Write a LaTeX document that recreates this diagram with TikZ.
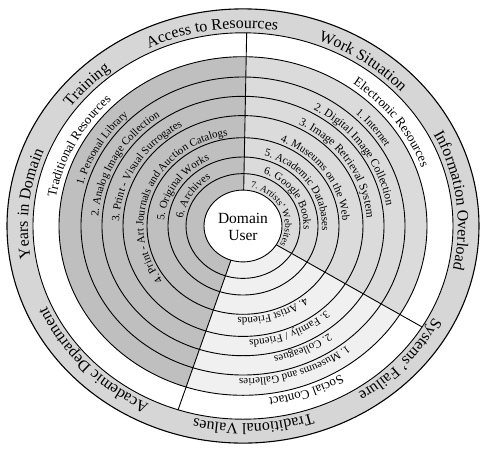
\documentclass[tikz,border=0pt]{standalone}
\usepackage{fontspec}
\setmainfont{Liberation Serif}
\usetikzlibrary{decorations.text}
\definecolor{bandgray}{gray}{0.84}
\definecolor{tradgray}{gray}{0.75}
\definecolor{elecgray}{gray}{0.86}
\definecolor{socgray}{gray}{0.94}
\tikzset{
  ring/.style={draw=black, line width=0.9pt},
  arclabel/.style 2 args={decorate, decoration={text along path, text align=center,
      text={|\fontsize{#1}{#1}\selectfont|#2}}},
}
% radius, mid angle, font size, text
\newcommand\ringtext[4]{%
  \pgfmathsetmacro\ryy{0.92*#1}%
  \pgfmathsetmacro\aa{#2+85}%
  \pgfmathsetmacro\ab{#2-85}%
  \path[arclabel={#3}{#4}] (\aa:#1 and \ryy)
    arc[start angle=\aa, end angle=\ab, x radius=#1, y radius=\ryy];}
\begin{document}
\begin{tikzpicture}[x=1pt, y=1pt]
\useasboundingbox (-243,-225) rectangle (242,226);

% outer band and white band
\draw[fill=bandgray, line width=1.1pt] (0,0) ellipse [x radius=236, y radius=217.1];
\draw[ring, fill=white] (0,0) ellipse [x radius=210, y radius=193.2];

% sectors
\fill[tradgray] (0,0) -- (89:184 and 169.3) arc[start angle=89, end angle=252, x radius=184, y radius=169.3] -- cycle;
\fill[elecgray] (0,0) -- (-31.5:184 and 169.3) arc[start angle=-31.5, end angle=89, x radius=184, y radius=169.3] -- cycle;
\fill[socgray] (0,0) -- (252:184 and 169.3) arc[start angle=252, end angle=328.5, x radius=184, y radius=169.3] -- cycle;

% rings
\draw[ring] (0,0) ellipse [x radius=184, y radius=169.3];
\draw[ring] (0,0) ellipse [x radius=162, y radius=149.0];
\draw[ring] (0,0) ellipse [x radius=141, y radius=129.7];
\draw[ring] (0,0) ellipse [x radius=120, y radius=110.4];
\draw[ring] (0,0) ellipse [x radius=96, y radius=88.3];
\draw[ring] (0,0) ellipse [x radius=75, y radius=69.0];
\draw[ring] (0,0) ellipse [x radius=57, y radius=52.4];

% dividers
\draw[ring] (89:39 and 35.9) -- (89:210 and 193.2);
\draw[ring] (252:39 and 35.9) -- (252:210 and 193.2);
\draw[ring] (-31.5:39 and 35.9) -- (-31.5:210 and 193.2);

% center
\draw[ring, fill=white] (0,0) ellipse [x radius=39, y radius=35.9];
\node[align=center, font=\fontsize{15.5}{17}\selectfont] (user) at (0,-1) {Domain\\User};

% outer band
\ringtext{215}{99}{16}{Access to Resources}
\ringtext{215}{138}{16}{Training}
\ringtext{215}{174}{16}{Years in Domain}
\ringtext{215}{54}{16}{Work Situation}
\ringtext{215}{7}{16}{Information Overload}
\ringtext{215}{-40.5}{16}{Systems' Failure}
\ringtext{215}{-87}{16}{Traditional Values}
\ringtext{215}{222}{16}{Academic Department}

% white band
\ringtext{189.5}{154}{13}{Traditional Resources}
\ringtext{189.5}{35}{13}{Electronic Resources}
\ringtext{189}{-69}{13}{Social Contact}

% traditional resources
\ringtext{166}{151}{11}{1. Personal Library}
\ringtext{145}{152}{11}{2. Analog Image Collection}
\ringtext{124}{150}{11}{3. Print - Visual Surrogates}
\ringtext{99.5}{158}{11}{4. Print - Art Journals and Auction Catalogs}
\ringtext{79}{147}{11}{5. Original Works}
\ringtext{60.5}{149}{11}{6. Archives}

% electronic resources
\ringtext{166}{37}{11}{1. Internet}
\ringtext{145}{33}{11.5}{2. Digital Image Collection}
\ringtext{124}{32}{11.5}{3. Image Retrieval System}
\ringtext{99.5}{34}{11}{4. Museums on the Web}
\ringtext{79}{34}{11}{5. Academic Databases}
\ringtext{60.5}{32}{11}{6. Google Books}
\ringtext{42}{25}{9.5}{7. Artists' Websites}

% social contact
\ringtext{166}{-70}{11}{1. Museums and Galleries}
\ringtext{145}{-64}{11}{2. Colleagues}
\ringtext{124}{-66}{11}{3. Family / Friends}
\ringtext{99.5}{-71}{11}{4. Artist Friends}
\end{tikzpicture}
\end{document}
